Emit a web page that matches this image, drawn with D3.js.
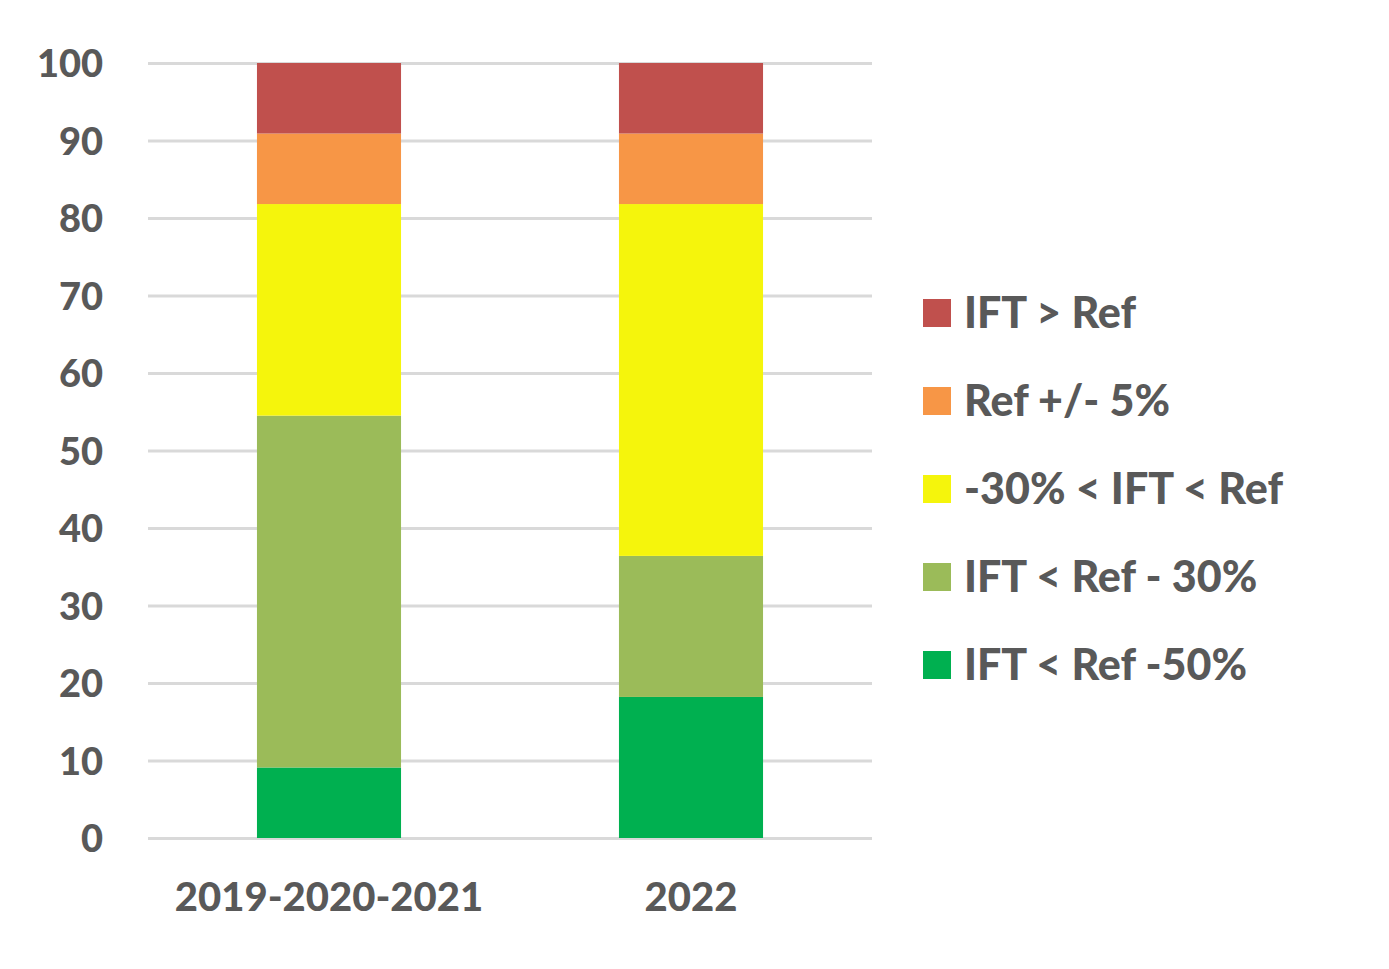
<!DOCTYPE html>
<html>
<head>
<meta charset="utf-8">
<script src="https://cdn.jsdelivr.net/npm/d3@7"></script>
<style>
    body { margin: 0; background: #fff; }
    #chart text { font-family: Lato, 'Open Sans', sans-serif; font-weight: 900; fill: #595959; }
    .grid line { stroke: #d9d9d9; stroke-width: 3; }
    .grid path { display: none; }
</style>
</head>
<body>
<div id="chart"></div>
<script>
// Données
const categories = ['2019-2020-2021', '2022'];
const seriesNames = ['IFT < Ref -50%', 'IFT < Ref - 30%', '-30% < IFT < Ref', 'Ref +/- 5%', 'IFT > Ref'];
const seriesColors = ['#00b050', '#9bbb59', '#f5f50c', '#f79646', '#c0504d'];
const values2019_2021 = [9.1, 45.4, 27.3, 9.1, 9.1];
const values2022 = [18.2, 18.2, 45.4, 9.1, 9.1];
const yTicks = [0, 10, 20, 30, 40, 50, 60, 70, 80, 90, 100];

function drawChart() {
    const W = 1389, H = 969;
    const margin = {top: 63, right: 517, bottom: 131, left: 148};
    const width = W - margin.left - margin.right;
    const height = H - margin.top - margin.bottom;

    const svg = d3.select('#chart').append('svg')
        .attr('width', W)
        .attr('height', H)
        .append('g')
        .attr('transform', `translate(${margin.left},${margin.top})`);

    const rows = categories.map((c, i) => {
        const vals = i === 0 ? values2019_2021 : values2022;
        const row = {category: c};
        seriesNames.forEach((s, j) => row[s] = vals[j]);
        return row;
    });
    const stacked = d3.stack().keys(seriesNames)(rows);

    // Escalas
    const x = d3.scaleBand()
        .domain(categories)
        .range([0, width])
        .paddingInner(0.602)
        .paddingOuter(0.301);

    const y = d3.scaleLinear()
        .domain([0, 100])
        .range([height, 0]);

    const color = d3.scaleOrdinal()
        .domain(seriesNames)
        .range(seriesColors);

    // Grade
    svg.append('g')
        .attr('class', 'grid')
        .call(d3.axisLeft(y).tickValues(yTicks).tickSize(-width).tickFormat(''));

    // Eixo Y
    const yAxis = svg.append('g')
        .call(d3.axisLeft(y).tickValues(yTicks).tickSize(0).tickPadding(45));
    yAxis.select('.domain').remove();
    yAxis.selectAll('text').style('font-size', '38px').attr('dy', '0.36em');

    // Barras
    svg.selectAll('.serie')
        .data(stacked)
        .enter().append('g')
        .attr('class', 'serie')
        .attr('fill', d => color(d.key))
        .selectAll('rect')
        .data(d => d)
        .enter().append('rect')
        .attr('x', d => x(d.data.category))
        .attr('y', d => y(d[1]))
        .attr('width', x.bandwidth())
        .attr('height', d => y(d[0]) - y(d[1]));

    // Eixo X
    const xAxis = svg.append('g')
        .attr('transform', `translate(0,${height})`)
        .call(d3.axisBottom(x).tickSize(0).tickPadding(45));
    xAxis.select('.domain').remove();
    xAxis.selectAll('text').style('font-size', '40px');

    // Legenda
    const legend = svg.append('g')
        .attr('transform', `translate(${923 - margin.left}, ${313 - margin.top})`);

    seriesNames.slice().reverse().forEach((name, i) => {
        const lg = legend.append('g')
            .attr('transform', `translate(0, ${i * 88})`);

        lg.append('rect')
            .attr('y', -14)
            .attr('width', 28)
            .attr('height', 28)
            .attr('fill', color(name));

        lg.append('text')
            .attr('x', 41)
            .attr('dy', '0.36em')
            .style('font-size', '43px')
            .text(name);
    });
}

drawChart();
</script>
</body>
</html>
